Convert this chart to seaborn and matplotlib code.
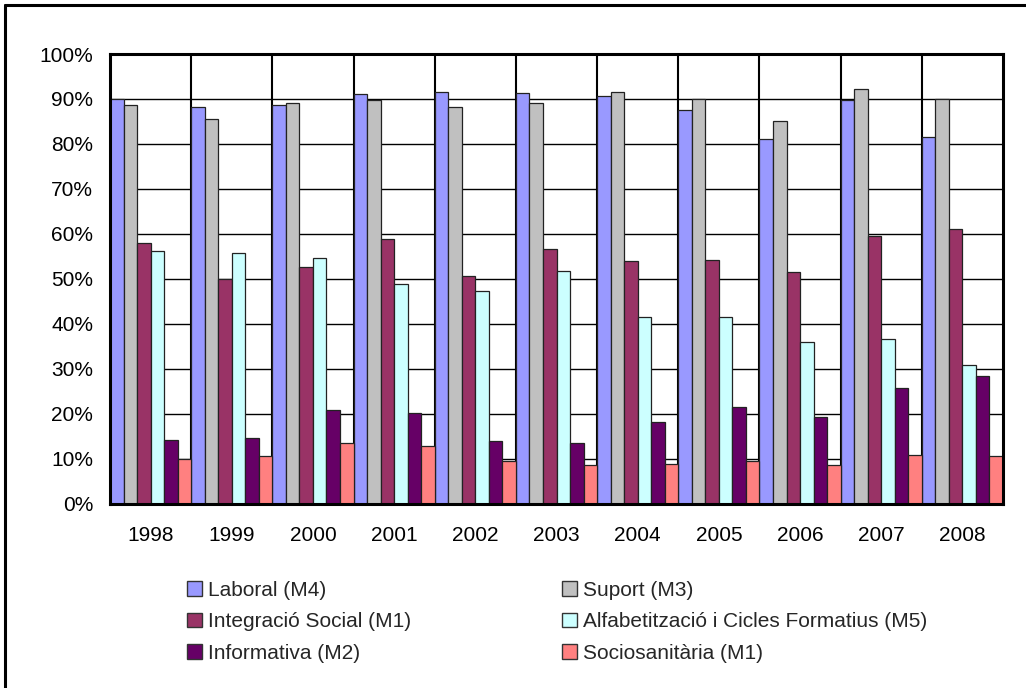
import matplotlib
matplotlib.use("Agg")
import matplotlib.pyplot as plt
from matplotlib.lines import Line2D
from matplotlib.patches import Patch
from matplotlib.ticker import FuncFormatter
import seaborn as sns
import pandas as pd

years = ["1998", "1999", "2000", "2001", "2002", "2003", "2004", "2005", "2006", "2007", "2008"]

series_names = [
    "Laboral (M4)",
    "Suport (M3)",
    "Integració Social (M1)",
    "Alfabetització i Cicles Formatius (M5)",
    "Informativa (M2)",
    "Sociosanitària (M1)",
]

laboral = [90.0, 88.1, 88.6, 91.1, 91.6, 91.3, 90.7, 87.5, 81.0, 89.8, 81.5]
suport = [88.6, 85.5, 89.2, 89.8, 88.3, 89.0, 91.5, 90.0, 85.0, 92.2, 90.1]
integracio = [57.9, 50.0, 52.6, 58.8, 50.6, 56.6, 53.9, 54.1, 51.6, 59.4, 61.1]
alfabetitzacio = [56.2, 55.8, 54.7, 48.8, 47.3, 51.7, 41.6, 41.6, 35.9, 36.5, 30.9]
informativa = [14.1, 14.5, 20.7, 20.1, 13.9, 13.4, 18.1, 21.4, 19.2, 25.8, 28.3]
sociosanitaria = [10.0, 10.6, 13.4, 12.7, 9.5, 8.5, 8.7, 9.5, 8.5, 10.8, 10.6]

series_values = [laboral, suport, integracio, alfabetitzacio, informativa, sociosanitaria]
colors = ["#9999FF", "#C0C0C0", "#993366", "#CCFFFF", "#660066", "#FF8080"]

rows = []
for name, vals in zip(series_names, series_values):
    for y, v in zip(years, vals):
        rows.append({"Any": y, "Sèrie": name, "Valor": v})
df = pd.DataFrame(rows)

sns.set_theme(style="white")
plt.rcParams["font.family"] = ["Liberation Sans", "DejaVu Sans"]

FS = 15

fig = plt.figure(figsize=(10.26, 6.88), dpi=100)
ax = fig.add_axes([110 / 1026, 1 - 503.5 / 688, 893 / 1026, 449.5 / 688])

sns.barplot(
    data=df, x="Any", y="Valor", hue="Sèrie",
    order=years, hue_order=series_names,
    palette=colors, saturation=1, width=1.0, gap=0,
    edgecolor="#222222", linewidth=0.9,
    errorbar=None, legend=False, ax=ax, zorder=3,
)

ax.set_ylim(0, 100)
ax.set_xlim(-0.5, len(years) - 0.5)
ax.set_yticks(range(0, 101, 10))
ax.yaxis.set_major_formatter(FuncFormatter(lambda v, p: f"{int(v)}%"))
ax.set_xlabel("")
ax.set_ylabel("")

# horizontal gridlines and category separators, both behind the bars
for v in range(10, 100, 10):
    ax.axhline(v, color="black", linewidth=1.0, zorder=1)
for i in range(len(years) - 1):
    ax.axvline(i + 0.5, color="black", linewidth=1.5, zorder=1)

for sp in ax.spines.values():
    sp.set_visible(True)
    sp.set_color("black")
    sp.set_linewidth(2.2)
    sp.set_zorder(5)

ax.tick_params(axis="both", length=0, labelsize=FS, colors="black")
ax.tick_params(axis="y", pad=12)
ax.tick_params(axis="x", pad=16)

# legend: two columns below the plot
handles = [Patch(facecolor=c, edgecolor="#333333", linewidth=1.0) for c in colors]
legend_kw = dict(
    loc="upper left", frameon=False, fontsize=FS,
    handlelength=0.7, handleheight=0.7, handletextpad=0.3,
    labelspacing=0.59, borderaxespad=0, borderpad=0,
)
left_col = [0, 2, 4]
right_col = [1, 3, 5]
leg1 = fig.legend([handles[i] for i in left_col], [series_names[i] for i in left_col],
                  bbox_to_anchor=(187 / 1026, 1 - 581 / 688), **legend_kw)
fig.legend([handles[i] for i in right_col], [series_names[i] for i in right_col],
           bbox_to_anchor=(562 / 1026, 1 - 581 / 688), **legend_kw)

# outer frame (top and left edges)
fig.add_artist(Line2D([5 / 1026, 1.0], [1 - 5 / 688, 1 - 5 / 688],
                      transform=fig.transFigure, color="black", linewidth=2.2))
fig.add_artist(Line2D([5 / 1026, 5 / 1026], [0.0, 1 - 5 / 688],
                      transform=fig.transFigure, color="black", linewidth=2.2))

fig.savefig("out.png", dpi=100, facecolor="white")
